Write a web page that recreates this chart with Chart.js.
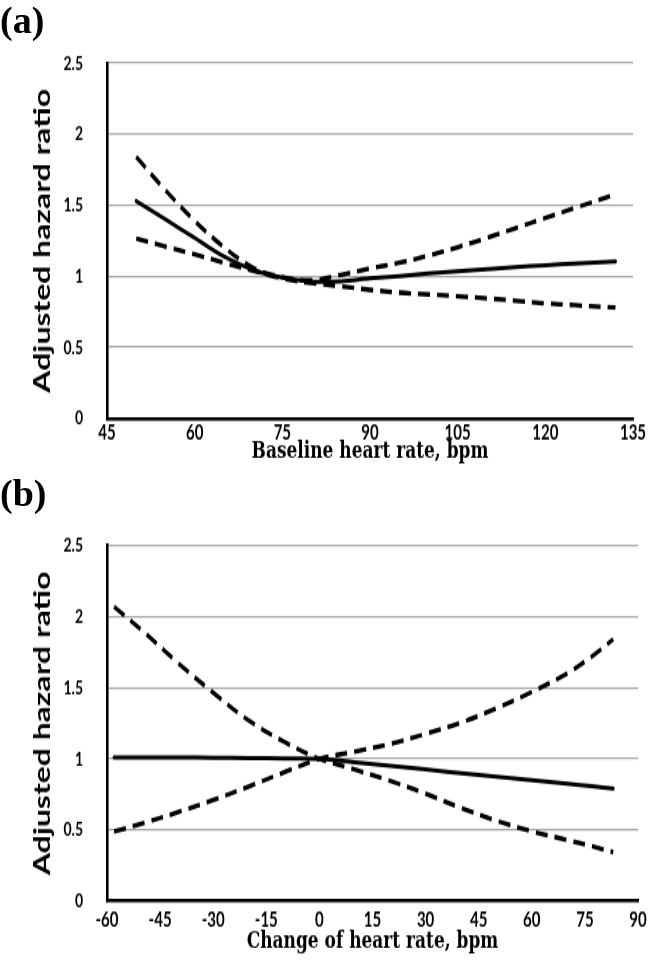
<!DOCTYPE html>
<html>
<head>
<meta charset="utf-8">
<script src="https://cdn.jsdelivr.net/npm/chart.js@4.4.1/dist/chart.umd.min.js"></script>
<style>
  html, body { margin: 0; padding: 0; background: #fff; width: 664px; height: 975px; overflow: hidden; }
  .wrap { position: absolute; left: 0; width: 664px; }
  #wa { top: 0; }
  #wb { top: 490px; }
  canvas { display: block; transform-origin: 0 0; transform: scaleY(1.4); }
  .panel { position: absolute; left: 0; font-family: "Liberation Serif", serif; font-weight: bold; font-size: 38px; line-height: 1; color: #000; }
</style>
</head>
<body>
<div class="wrap" id="wa"><canvas id="ca" width="664" height="350"></canvas></div>
<div class="wrap" id="wb"><canvas id="cb" width="664" height="346"></canvas></div>
<div class="panel" style="top:1px;">(a)</div>
<div class="panel" style="top:474px;">(b)</div>
<script>
// ---- Panel (a): baseline heart rate ----
const baselineHR = [50, 55, 60, 65, 70, 75, 80, 85, 90, 95, 100, 105, 110, 115, 120, 125, 132];
const hrA_estimate = [1.53, 1.40, 1.27, 1.14, 1.045, 0.99, 0.962, 0.965, 0.985, 1.0, 1.02, 1.035, 1.05, 1.065, 1.078, 1.09, 1.105];
const hrA_upper    = [1.84, 1.605, 1.39, 1.205, 1.06, 0.995, 0.972, 1.01, 1.055, 1.095, 1.145, 1.205, 1.27, 1.34, 1.41, 1.48, 1.575];
const hrA_lower    = [1.265, 1.21, 1.155, 1.095, 1.04, 0.985, 0.952, 0.93, 0.905, 0.885, 0.873, 0.86, 0.845, 0.828, 0.81, 0.797, 0.78];
const ticksA = [45, 60, 75, 90, 105, 120, 135];

// ---- Panel (b): change of heart rate ----
const changeHR = [-58, -50, -40, -30, -20, -10, 0, 10, 20, 30, 40, 50, 60, 70, 77, 83];
const hrB_estimate = [1.01, 1.01, 1.01, 1.008, 1.006, 1.003, 1.0, 0.975, 0.95, 0.925, 0.9, 0.875, 0.85, 0.825, 0.807, 0.79];
const hrB_ciFalling = [2.07, 1.9, 1.675, 1.465, 1.27, 1.12, 1.0, 0.925, 0.845, 0.755, 0.655, 0.565, 0.49, 0.43, 0.385, 0.345];
const hrB_ciRising  = [0.49, 0.545, 0.625, 0.71, 0.805, 0.905, 1.0, 1.05, 1.105, 1.175, 1.255, 1.355, 1.47, 1.6, 1.72, 1.84];
const ticksB = [-60, -45, -30, -15, 0, 15, 30, 45, 60, 75, 90];

const yTicks = [0, 0.5, 1, 1.5, 2, 2.5];
const yTitle = "Adjusted hazard ratio";

function pts(xs, ys) { return xs.map((x, i) => ({ x: x, y: ys[i] })); }

function makeChart(id, xs, series, xMin, xMax, xTicks, xTitle, pad, xScaleH, xTickPad) {
  const solid = { borderColor: "#000", borderWidth: 3, pointRadius: 0, fill: false,
                  tension: 0.35, borderCapStyle: "round" };
  const dashed = { borderColor: "#000", borderWidth: 3.3, borderDash: [12, 7], pointRadius: 0, fill: false,
                   tension: 0.35, borderCapStyle: "butt" };
  return new Chart(document.getElementById(id), {
    type: "line",
    data: {
      datasets: [
        Object.assign({ label: "upper", data: pts(xs, series[1]) }, dashed),
        Object.assign({ label: "lower", data: pts(xs, series[2]) }, dashed),
        Object.assign({ label: "estimate", data: pts(xs, series[0]) }, solid)
      ]
    },
    options: {
      responsive: false,
      animation: false,
      events: [],
      layout: { padding: pad },
      plugins: { legend: { display: false }, tooltip: { enabled: false }, title: { display: false } },
      scales: {
        x: {
          type: "linear", min: xMin, max: xMax,
          afterBuildTicks: (s) => { s.ticks = xTicks.map(v => ({ value: v })); },
          afterFit: (s) => { s.height = xScaleH; },
          ticks: { color: "#000", font: { family: "Lato", weight: "bold", size: 15 }, padding: xTickPad,
                   maxRotation: 0, autoSkip: false, callback: (v) => String(v) },
          grid: { display: false, drawTicks: false },
          border: { display: true, color: "#000", width: 2.6 },
          title: { display: true, text: xTitle, color: "#000",
                   font: { family: "DejaVu Serif", weight: "bold", size: 17 },
                   padding: { top: 0, bottom: 0 } }
        },
        y: {
          type: "linear", min: 0, max: 2.5,
          afterBuildTicks: (s) => { s.ticks = yTicks.map(v => ({ value: v })); },
          afterFit: (s) => { s.width = 107 - pad.left; },
          ticks: { color: "#000", font: { family: "Lato", weight: "bold", size: 14 }, padding: 24,
                   callback: (v) => String(v) },
          grid: { drawTicks: false, color: (c) => c.tick && c.tick.value === 0 ? "rgba(0,0,0,0)" : "#a6a6a6", lineWidth: 1.3 },
          border: { display: true, color: "#000", width: 2.6 },
          title: { display: true, text: yTitle, color: "#000",
                   font: { family: "Lato", weight: "bold", size: 22.8 },
                   padding: { top: 29, bottom: 0 } }
        }
      }
    }
  });
}

// layout values are in unstretched canvas units (canvas is stretched vertically by 1.4)
makeChart("ca", baselineHR, [hrA_estimate, hrA_upper, hrA_lower], 45, 135, ticksA,
          "Baseline heart rate, bpm", { top: 45, left: 0, right: 31, bottom: 16.9 }, 34.2, 1.5);
makeChart("cb", changeHR, [hrB_estimate, hrB_ciRising, hrB_ciFalling], -60, 90, ticksB,
          "Change of heart rate, bpm", { top: 39.6, left: 0, right: 26, bottom: 12.9 }, 39.5, 5);
</script>
</body>
</html>
